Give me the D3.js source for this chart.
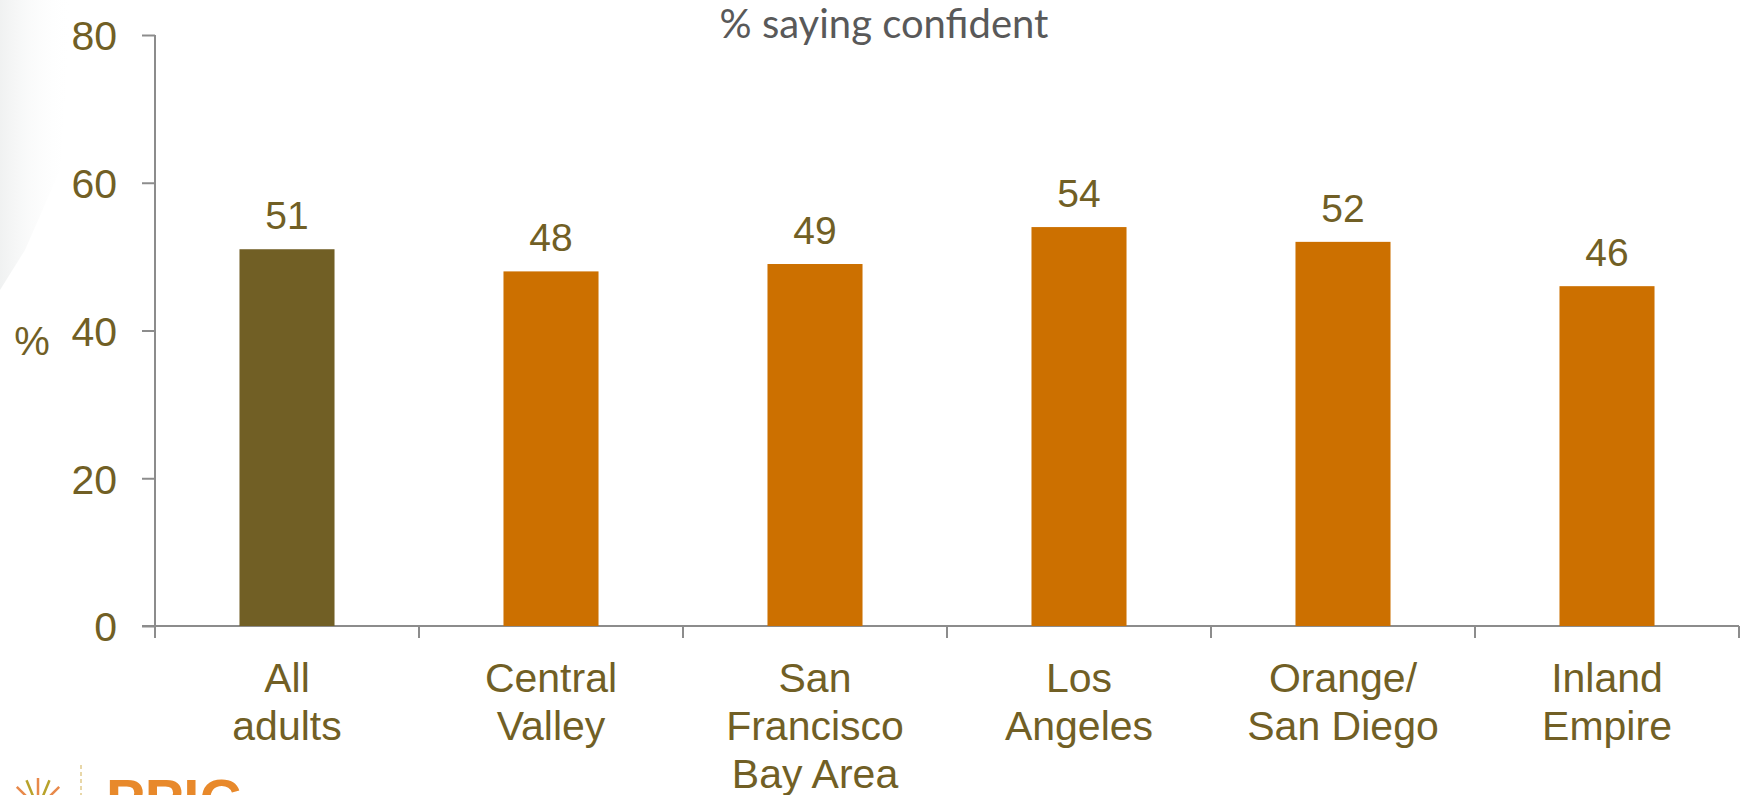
<!DOCTYPE html>
<html>
<head>
<meta charset="utf-8">
<script src="https://cdn.jsdelivr.net/npm/d3@7"></script>
<style>
  html, body { margin: 0; padding: 0; background: #fff; overflow: hidden; }
  svg { display: block; }
</style>
</head>
<body>
<div id="chart"></div>
<script>
// data
var categories = ["All adults", "Central Valley", "San Francisco Bay Area", "Los Angeles", "Orange/ San Diego", "Inland Empire"];
var labelLines = [["All", "adults"], ["Central", "Valley"], ["San", "Francisco", "Bay Area"], ["Los", "Angeles"], ["Orange/", "San Diego"], ["Inland", "Empire"]];
var values = [51, 48, 49, 54, 52, 46];
var yTicks = [0, 20, 40, 60, 80];

var W = 1747, H = 795;
var TEXT = "#715f25", OLIVE = "#715f25", ORANGE = "#cc7000", AXIS = "#8c8c8c";
var FONT = "'Liberation Sans', Arial, sans-serif";

var svg = d3.select("#chart").append("svg")
  .attr("width", W).attr("height", H);

// faint slide background on the left
var defs = svg.append("defs");
var grad = defs.append("linearGradient").attr("id", "lg")
  .attr("x1", 0).attr("y1", 0).attr("x2", 1).attr("y2", 0);
grad.append("stop").attr("offset", 0).attr("stop-color", "#eceeee").attr("stop-opacity", 0.8);
grad.append("stop").attr("offset", 1).attr("stop-color", "#ffffff").attr("stop-opacity", 0);
svg.append("path")
  .attr("d", "M0,0 L72,0 L60,170 L25,250 L0,290 Z")
  .attr("fill", "url(#lg)");

var x = d3.scaleBand().domain(categories).range([155, 1739])
  .paddingInner(0.64).paddingOuter(0.32);
var y = d3.scaleLinear().domain([0, 80]).range([626, 35]);

// title
svg.append("text")
  .attr("x", 884).attr("y", 38)
  .attr("text-anchor", "middle")
  .style("font-family", "Lato, 'Open Sans', sans-serif")
  .style("font-size", "40px")
  .attr("fill", "#595959")
  .text("% saying confident");

// y axis
var yAxis = svg.append("g")
  .attr("transform", "translate(155,0)")
  .call(d3.axisLeft(y).tickValues(yTicks).tickSize(13).tickPadding(25).tickSizeOuter(0));
yAxis.select(".domain").remove();
yAxis.append("line").attr("x1", 0).attr("x2", 0).attr("y1", y(80)).attr("y2", 638)
  .attr("stroke", AXIS).attr("stroke-width", 2);
yAxis.selectAll(".tick line").attr("stroke", AXIS).attr("stroke-width", 2);
yAxis.selectAll(".tick text")
  .style("font-family", FONT).style("font-size", "41px").attr("fill", TEXT)
  .attr("dy", "0.36em");

svg.append("text")
  .attr("x", 32).attr("y", 355)
  .attr("text-anchor", "middle")
  .style("font-family", FONT).style("font-size", "40px")
  .attr("fill", TEXT).text("%");

// x axis
svg.append("line")
  .attr("x1", 142).attr("x2", 1739).attr("y1", y(0)).attr("y2", y(0))
  .attr("stroke", AXIS).attr("stroke-width", 2);
var edges = categories.map(function(c){ return x(c) - x.step() * x.paddingOuter(); });
edges.push(x.range()[1]);
svg.selectAll(".xtick").data(edges.slice(1)).enter().append("line")
  .attr("class", "xtick")
  .attr("x1", function(d){ return d; }).attr("x2", function(d){ return d; })
  .attr("y1", y(0)).attr("y2", y(0) + 12)
  .attr("stroke", AXIS).attr("stroke-width", 2);

// bars
svg.selectAll(".bar").data(values).enter().append("rect")
  .attr("class", "bar")
  .attr("x", function(d, i){ return x(categories[i]); })
  .attr("y", function(d){ return y(d); })
  .attr("width", x.bandwidth())
  .attr("height", function(d){ return y(0) - y(d); })
  .attr("fill", function(d, i){ return i === 0 ? OLIVE : ORANGE; });

// value labels
svg.selectAll(".val").data(values).enter().append("text")
  .attr("class", "val")
  .attr("x", function(d, i){ return x(categories[i]) + x.bandwidth() / 2; })
  .attr("y", function(d){ return y(d) - 20; })
  .attr("text-anchor", "middle")
  .style("font-family", FONT).style("font-size", "39px")
  .attr("fill", TEXT)
  .text(function(d){ return d; });

// category labels
var cat = svg.selectAll(".cat").data(labelLines).enter().append("text")
  .attr("class", "cat")
  .attr("text-anchor", "middle")
  .style("font-family", FONT).style("font-size", "41px")
  .attr("fill", TEXT);
cat.selectAll("tspan").data(function(d, i){
    return d.map(function(t){ return {t: t, cx: x(categories[i]) + x.bandwidth() / 2}; });
  }).enter().append("tspan")
  .attr("x", function(d){ return d.cx; })
  .attr("y", function(d, j){ return 692 + j * 48; })
  .text(function(d){ return d.t; });

// PPIC logo (cut off at bottom)
var logo = svg.append("g");
var rays = d3.range(-90, 91, 22.5);
logo.selectAll(".ray").data(rays).enter().append("line")
  .attr("x1", 38).attr("y1", 808)
  .attr("x2", function(a){ return 38 + 30 * Math.sin(a * Math.PI / 180); })
  .attr("y2", function(a){ return 808 - 30 * Math.cos(a * Math.PI / 180); })
  .attr("stroke", function(a, i){ return i % 2 ? "#b8a22a" : "#e8894a"; })
  .attr("stroke-width", 2.5);
logo.append("line").attr("x1", 81).attr("x2", 81).attr("y1", 765).attr("y2", 795)
  .attr("stroke", "#e8d7a8").attr("stroke-width", 2).attr("stroke-dasharray", "4,3");
logo.append("text")
  .attr("x", 106).attr("y", 820)
  .style("font-family", FONT).style("font-weight", "bold").style("font-size", "58px")
  .attr("fill", "#e8892b").text("PPIC");
</script>
</body>
</html>
